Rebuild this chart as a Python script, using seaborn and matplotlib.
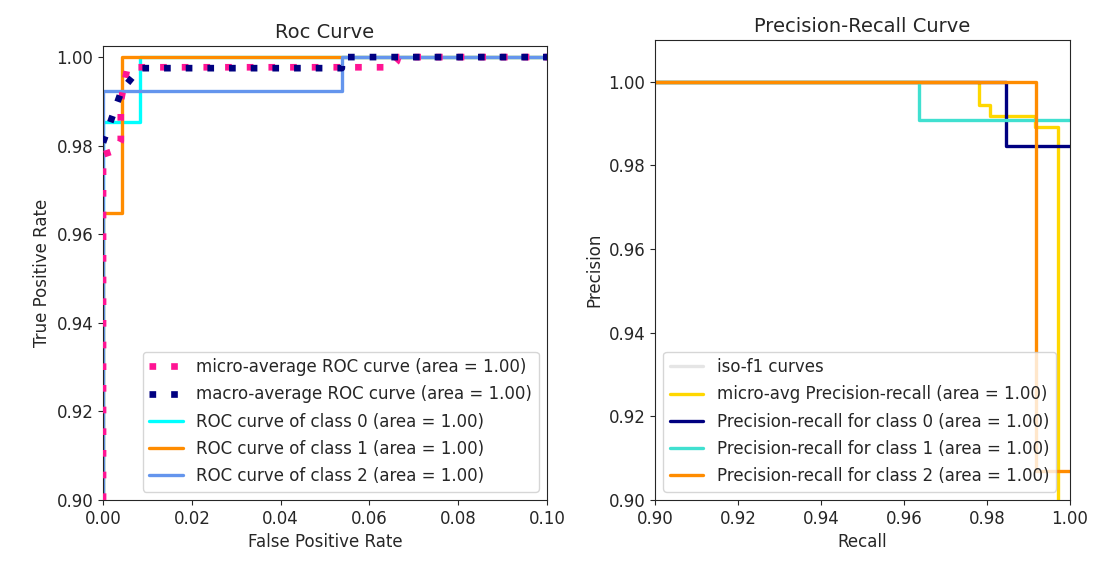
import matplotlib
matplotlib.use("Agg")
import matplotlib.pyplot as plt
import seaborn as sns

sns.set_style("ticks")
plt.rcParams["font.family"] = ["DejaVu Sans"]

# ROC 곡선 (읽어낸 값)
micro_fpr = [0.0, 0.0, 0.0030, 0.0040, 0.0040, 0.0055, 0.0650, 0.0662, 0.0665, 1.0]
micro_tpr = [0.0, 0.978, 0.979, 0.981, 0.990, 0.9977, 0.9977, 0.9990, 1.0, 1.0]
macro_fpr = [0.0, 0.0042, 0.0083, 0.0538, 0.0538, 1.0]
macro_tpr = [0.9807, 0.9925, 0.9975, 0.9975, 1.0, 1.0]
c0_fpr = [0.0, 0.0, 0.0083, 0.0083, 1.0]
c0_tpr = [0.0, 0.9853, 0.9853, 1.0, 1.0]
c1_fpr = [0.0, 0.0, 0.0042, 0.0042, 1.0]
c1_tpr = [0.0, 0.9648, 0.9648, 1.0, 1.0]
c2_fpr = [0.0, 0.0, 0.0538, 0.0538, 1.0]
c2_tpr = [0.0, 0.9924, 0.9924, 1.0, 1.0]

# Precision-Recall 곡선
pr_micro_r = [0.0, 0.978, 0.978, 0.9807, 0.9807, 0.9916, 0.9916, 0.9970, 0.9970, 1.0]
pr_micro_p = [1.0, 1.0, 0.9945, 0.9945, 0.9919, 0.9919, 0.9893, 0.9893, 0.85, 0.85]
pr_c0_r = [0.0, 0.9845, 0.9845, 1.0]
pr_c0_p = [1.0, 1.0, 0.9847, 0.9847]
pr_c1_r = [0.0, 0.9636, 0.9636, 1.0]
pr_c1_p = [1.0, 1.0, 0.9909, 0.9909]
pr_c2_r = [0.0, 0.9918, 0.9918, 1.0]
pr_c2_p = [1.0, 1.0, 0.9069, 0.9069]

DOT = (0, (1, 2.25))

fig = plt.figure(figsize=(10.95, 5.64), dpi=100)
ax1 = fig.add_axes([0.0941, 0.1135, 0.4054, 0.8049])
ax2 = fig.add_axes([0.5982, 0.1135, 0.3790, 0.8156])

def line(ax, x, y, **kw):
    sns.lineplot(x=x, y=y, ax=ax, sort=False, estimator=None, **kw)

line(ax1, micro_fpr, micro_tpr, color="deeppink", lw=4.8, linestyle=DOT, zorder=3,
     label="micro-average ROC curve (area = 1.00)")
line(ax1, macro_fpr, macro_tpr, color="navy", lw=4.8, linestyle=DOT, zorder=3,
     label="macro-average ROC curve (area = 1.00)")
for fx, ty, c, i in [(c0_fpr, c0_tpr, "aqua", 0),
                     (c1_fpr, c1_tpr, "darkorange", 1),
                     (c2_fpr, c2_tpr, "cornflowerblue", 2)]:
    line(ax1, fx, ty, color=c, lw=2.4, zorder=2,
         label=f"ROC curve of class {i} (area = 1.00)")

ax1.set(xlim=(0, 0.1), ylim=(0.9, 1.0025))
ax1.set_xticks([0, 0.02, 0.04, 0.06, 0.08, 0.10])
ax1.set_yticks([0.90, 0.92, 0.94, 0.96, 0.98, 1.00])
ax1.set_xlabel("False Positive Rate", fontsize=12)
ax1.set_ylabel("True Positive Rate", fontsize=12)
ax1.set_title("Roc Curve", fontsize=14)
ax1.legend(loc="lower right", fontsize=12, labelspacing=0.55)

ax2.plot([], [], color="gray", alpha=0.2, lw=2.4, label="iso-f1 curves")
line(ax2, pr_micro_r, pr_micro_p, color="gold", lw=2.4,
     label="micro-avg Precision-recall (area = 1.00)")
for rx, py, c, i in [(pr_c0_r, pr_c0_p, "navy", 0),
                     (pr_c1_r, pr_c1_p, "turquoise", 1),
                     (pr_c2_r, pr_c2_p, "darkorange", 2)]:
    line(ax2, rx, py, color=c, lw=2.4,
         label=f"Precision-recall for class {i} (area = 1.00)")

ax2.set(xlim=(0.9, 1.0), ylim=(0.9, 1.01))
ax2.set_xticks([0.90, 0.92, 0.94, 0.96, 0.98, 1.00])
ax2.set_yticks([0.90, 0.92, 0.94, 0.96, 0.98, 1.00])
ax2.set_xlabel("Recall", fontsize=12)
ax2.set_ylabel("Precision", fontsize=12)
ax2.set_title("Precision-Recall Curve", fontsize=14)
ax2.legend(loc="lower left", fontsize=12, labelspacing=0.55)

for ax in (ax1, ax2):
    ax.tick_params(labelsize=12)
    ax.xaxis.set_major_formatter(matplotlib.ticker.FormatStrFormatter("%.2f"))
    ax.yaxis.set_major_formatter(matplotlib.ticker.FormatStrFormatter("%.2f"))

fig.savefig("out.png", dpi=100)
